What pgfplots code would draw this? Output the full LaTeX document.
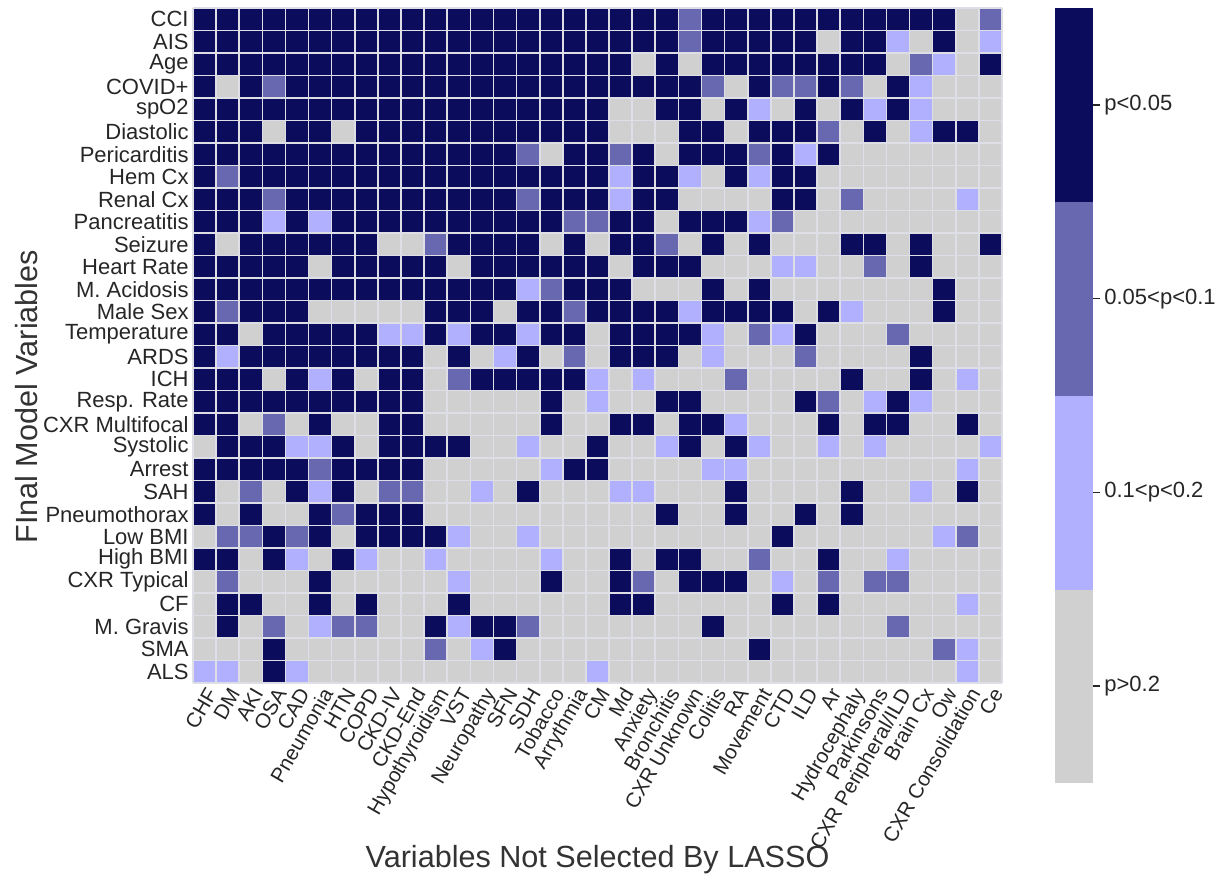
\documentclass[border=0pt]{standalone}
\usepackage{pgfplots}
\pgfplotsset{compat=1.18}
\usepackage{fontspec}
\setmainfont{Liberation Sans}
\definecolor{gridc}{RGB}{222,222,230}
\begin{document}
\begin{tikzpicture}
\begin{axis}[
  name=main,
  scale only axis,
  width=404.5pt, height=337.5pt,
  xmin=-0.5, xmax=34.5, ymin=-0.5, ymax=29.5,
  y dir=reverse,
  xtick={0,...,34},
  xticklabels={CHF,DM,AKI,OSA,CAD,Pneumonia,HTN,COPD,CKD-IV,CKD-End,Hypothyroidism,VST,Neuropathy,SFN,SDH,Tobacco,Arrythmia,CM,Md,Anxiety,Bronchitis,CXR Unknown,Colitis,RA,Movement,CTD,ILD,Ar,Hydrocephaly,Parkinsons,CXR Peripheral/ILD,Brain Cx,Ow,CXR Consolidation,Ce},
  ytick={0,...,29},
  yticklabels={CCI,AIS,Age,COVID+,spO2,Diastolic,Pericarditis,Hem Cx,Renal Cx,Pancreatitis,Seizure,Heart Rate,M. Acidosis,Male Sex,Temperature,ARDS,ICH,Resp. Rate,CXR Multifocal,Systolic,Arrest,SAH,Pneumothorax,Low BMI,High BMI,CXR Typical,CF,M. Gravis,SMA,ALS},
  xticklabel style={rotate=60, anchor=north east, inner sep=1pt, font=\fontsize{10.3}{12}\selectfont, text=black!85},
  yticklabel style={font=\fontsize{11}{13}\selectfont, inner sep=2pt, text=black!85},
  minor xtick={-0.5,0.5,...,34.5},
  minor ytick={-0.5,0.5,...,29.5},
  grid=minor,
  minor grid style={draw=gridc, line width=0.8pt},
  major tick length=0pt, minor tick length=0pt,
  axis line style={draw=none},
  axis on top,
  colormap={pval}{rgb255=(208,208,208) rgb255=(176,176,255) rgb255=(104,104,176) rgb255=(12,12,92)},
  colormap access=piecewise constant,
  point meta min=-0.5, point meta max=3.5,
  colorbar,
  colorbar style={
    at={(1.0655,1)}, anchor=north west,
    width=19pt, height=387.5pt,
    ytick={0,1,2,3},
    yticklabels={p>0.2,0.1<p<0.2,0.05<p<0.1,p<0.05},
    yticklabel style={font=\fontsize{11}{13}\selectfont, inner sep=2pt, text=black!85},
    ytick pos=right,
    yticklabel pos=right,
    tick align=outside,
    major tick length=3.5pt,
    tick style={black!85, line width=0.7pt},
    axis line style={draw=none},
  },
  xlabel={Variables Not Selected By LASSO},
  ylabel={FInal Model Variables},
  xlabel style={at={(axis description cs:0.5,-0.262)}, anchor=center, font=\fontsize{15.3}{18}\selectfont, text=black!80},
  ylabel style={at={(axis description cs:-0.2058,0.424)}, anchor=center, font=\fontsize{15.3}{18}\selectfont, text=black!80},
]
\addplot[matrix plot*, mesh/cols=35, point meta=explicit] table[row sep=\\, x=x, y=y, meta=c] {
x y c\\
0 0 3\\1 0 3\\2 0 3\\3 0 3\\4 0 3\\5 0 3\\6 0 3\\7 0 3\\8 0 3\\9 0 3\\10 0 3\\11 0 3\\12 0 3\\13 0 3\\14 0 3\\15 0 3\\16 0 3\\17 0 3\\18 0 3\\19 0 3\\20 0 3\\21 0 2\\22 0 3\\23 0 3\\24 0 3\\25 0 3\\26 0 3\\27 0 3\\28 0 3\\29 0 3\\30 0 3\\31 0 3\\32 0 3\\33 0 0\\34 0 2\\
0 1 3\\1 1 3\\2 1 3\\3 1 3\\4 1 3\\5 1 3\\6 1 3\\7 1 3\\8 1 3\\9 1 3\\10 1 3\\11 1 3\\12 1 3\\13 1 3\\14 1 3\\15 1 3\\16 1 3\\17 1 3\\18 1 3\\19 1 3\\20 1 3\\21 1 2\\22 1 3\\23 1 3\\24 1 3\\25 1 3\\26 1 3\\27 1 0\\28 1 3\\29 1 3\\30 1 1\\31 1 0\\32 1 3\\33 1 0\\34 1 1\\
0 2 3\\1 2 3\\2 2 3\\3 2 3\\4 2 3\\5 2 3\\6 2 3\\7 2 3\\8 2 3\\9 2 3\\10 2 3\\11 2 3\\12 2 3\\13 2 3\\14 2 3\\15 2 3\\16 2 3\\17 2 3\\18 2 3\\19 2 0\\20 2 3\\21 2 0\\22 2 3\\23 2 3\\24 2 3\\25 2 3\\26 2 3\\27 2 3\\28 2 3\\29 2 3\\30 2 0\\31 2 2\\32 2 1\\33 2 0\\34 2 3\\
0 3 3\\1 3 0\\2 3 3\\3 3 2\\4 3 3\\5 3 3\\6 3 3\\7 3 3\\8 3 3\\9 3 3\\10 3 3\\11 3 3\\12 3 3\\13 3 3\\14 3 3\\15 3 3\\16 3 3\\17 3 3\\18 3 3\\19 3 3\\20 3 3\\21 3 3\\22 3 2\\23 3 0\\24 3 3\\25 3 2\\26 3 2\\27 3 3\\28 3 2\\29 3 0\\30 3 3\\31 3 1\\32 3 0\\33 3 0\\34 3 0\\
0 4 3\\1 4 3\\2 4 3\\3 4 3\\4 4 3\\5 4 3\\6 4 3\\7 4 3\\8 4 3\\9 4 3\\10 4 3\\11 4 3\\12 4 3\\13 4 3\\14 4 3\\15 4 3\\16 4 3\\17 4 3\\18 4 0\\19 4 0\\20 4 3\\21 4 3\\22 4 0\\23 4 3\\24 4 1\\25 4 0\\26 4 3\\27 4 0\\28 4 3\\29 4 1\\30 4 3\\31 4 1\\32 4 0\\33 4 0\\34 4 0\\
0 5 3\\1 5 3\\2 5 3\\3 5 0\\4 5 3\\5 5 3\\6 5 0\\7 5 3\\8 5 3\\9 5 3\\10 5 3\\11 5 3\\12 5 3\\13 5 3\\14 5 3\\15 5 3\\16 5 3\\17 5 3\\18 5 0\\19 5 0\\20 5 0\\21 5 3\\22 5 3\\23 5 0\\24 5 3\\25 5 3\\26 5 3\\27 5 2\\28 5 0\\29 5 3\\30 5 0\\31 5 1\\32 5 3\\33 5 3\\34 5 0\\
0 6 3\\1 6 3\\2 6 3\\3 6 3\\4 6 3\\5 6 3\\6 6 3\\7 6 3\\8 6 3\\9 6 3\\10 6 3\\11 6 3\\12 6 3\\13 6 3\\14 6 2\\15 6 0\\16 6 3\\17 6 3\\18 6 2\\19 6 3\\20 6 0\\21 6 3\\22 6 3\\23 6 3\\24 6 2\\25 6 3\\26 6 1\\27 6 3\\28 6 0\\29 6 0\\30 6 0\\31 6 0\\32 6 0\\33 6 0\\34 6 0\\
0 7 3\\1 7 2\\2 7 3\\3 7 3\\4 7 3\\5 7 3\\6 7 3\\7 7 3\\8 7 3\\9 7 3\\10 7 3\\11 7 3\\12 7 3\\13 7 3\\14 7 3\\15 7 3\\16 7 3\\17 7 3\\18 7 1\\19 7 3\\20 7 3\\21 7 1\\22 7 0\\23 7 3\\24 7 1\\25 7 3\\26 7 3\\27 7 0\\28 7 0\\29 7 0\\30 7 0\\31 7 0\\32 7 0\\33 7 0\\34 7 0\\
0 8 3\\1 8 3\\2 8 3\\3 8 2\\4 8 3\\5 8 3\\6 8 3\\7 8 3\\8 8 3\\9 8 3\\10 8 3\\11 8 3\\12 8 3\\13 8 3\\14 8 2\\15 8 3\\16 8 3\\17 8 3\\18 8 1\\19 8 3\\20 8 3\\21 8 0\\22 8 0\\23 8 0\\24 8 0\\25 8 3\\26 8 3\\27 8 0\\28 8 2\\29 8 0\\30 8 0\\31 8 0\\32 8 0\\33 8 1\\34 8 0\\
0 9 3\\1 9 3\\2 9 3\\3 9 1\\4 9 3\\5 9 1\\6 9 3\\7 9 3\\8 9 3\\9 9 3\\10 9 3\\11 9 3\\12 9 3\\13 9 3\\14 9 3\\15 9 3\\16 9 2\\17 9 2\\18 9 3\\19 9 3\\20 9 0\\21 9 3\\22 9 3\\23 9 3\\24 9 1\\25 9 2\\26 9 0\\27 9 0\\28 9 0\\29 9 0\\30 9 0\\31 9 0\\32 9 0\\33 9 0\\34 9 0\\
0 10 3\\1 10 0\\2 10 3\\3 10 3\\4 10 3\\5 10 3\\6 10 3\\7 10 3\\8 10 0\\9 10 0\\10 10 2\\11 10 3\\12 10 3\\13 10 3\\14 10 3\\15 10 0\\16 10 3\\17 10 0\\18 10 3\\19 10 3\\20 10 2\\21 10 0\\22 10 3\\23 10 0\\24 10 3\\25 10 0\\26 10 0\\27 10 0\\28 10 3\\29 10 3\\30 10 0\\31 10 3\\32 10 0\\33 10 0\\34 10 3\\
0 11 3\\1 11 3\\2 11 3\\3 11 3\\4 11 3\\5 11 0\\6 11 3\\7 11 3\\8 11 3\\9 11 3\\10 11 3\\11 11 0\\12 11 3\\13 11 3\\14 11 3\\15 11 3\\16 11 3\\17 11 3\\18 11 0\\19 11 3\\20 11 3\\21 11 3\\22 11 0\\23 11 0\\24 11 0\\25 11 1\\26 11 1\\27 11 0\\28 11 0\\29 11 2\\30 11 0\\31 11 3\\32 11 0\\33 11 0\\34 11 0\\
0 12 3\\1 12 3\\2 12 3\\3 12 3\\4 12 3\\5 12 3\\6 12 3\\7 12 3\\8 12 3\\9 12 3\\10 12 3\\11 12 3\\12 12 3\\13 12 3\\14 12 1\\15 12 2\\16 12 3\\17 12 3\\18 12 3\\19 12 0\\20 12 0\\21 12 0\\22 12 3\\23 12 0\\24 12 3\\25 12 0\\26 12 0\\27 12 0\\28 12 0\\29 12 0\\30 12 0\\31 12 0\\32 12 3\\33 12 0\\34 12 0\\
0 13 3\\1 13 2\\2 13 3\\3 13 3\\4 13 3\\5 13 0\\6 13 0\\7 13 0\\8 13 0\\9 13 0\\10 13 3\\11 13 3\\12 13 3\\13 13 0\\14 13 3\\15 13 3\\16 13 2\\17 13 3\\18 13 3\\19 13 3\\20 13 3\\21 13 1\\22 13 3\\23 13 3\\24 13 3\\25 13 3\\26 13 0\\27 13 3\\28 13 1\\29 13 0\\30 13 0\\31 13 0\\32 13 3\\33 13 0\\34 13 0\\
0 14 3\\1 14 3\\2 14 0\\3 14 3\\4 14 3\\5 14 3\\6 14 3\\7 14 3\\8 14 1\\9 14 1\\10 14 3\\11 14 1\\12 14 3\\13 14 3\\14 14 1\\15 14 3\\16 14 3\\17 14 0\\18 14 3\\19 14 3\\20 14 3\\21 14 3\\22 14 1\\23 14 0\\24 14 2\\25 14 1\\26 14 3\\27 14 0\\28 14 0\\29 14 0\\30 14 2\\31 14 0\\32 14 0\\33 14 0\\34 14 0\\
0 15 3\\1 15 1\\2 15 3\\3 15 3\\4 15 3\\5 15 3\\6 15 3\\7 15 3\\8 15 3\\9 15 3\\10 15 0\\11 15 3\\12 15 0\\13 15 1\\14 15 3\\15 15 0\\16 15 2\\17 15 0\\18 15 3\\19 15 3\\20 15 3\\21 15 0\\22 15 1\\23 15 0\\24 15 0\\25 15 0\\26 15 2\\27 15 0\\28 15 0\\29 15 0\\30 15 0\\31 15 3\\32 15 0\\33 15 0\\34 15 0\\
0 16 3\\1 16 3\\2 16 3\\3 16 0\\4 16 3\\5 16 1\\6 16 3\\7 16 0\\8 16 3\\9 16 3\\10 16 0\\11 16 2\\12 16 3\\13 16 3\\14 16 3\\15 16 3\\16 16 3\\17 16 1\\18 16 0\\19 16 1\\20 16 0\\21 16 0\\22 16 0\\23 16 2\\24 16 0\\25 16 0\\26 16 0\\27 16 0\\28 16 3\\29 16 0\\30 16 0\\31 16 3\\32 16 0\\33 16 1\\34 16 0\\
0 17 3\\1 17 3\\2 17 3\\3 17 3\\4 17 3\\5 17 3\\6 17 3\\7 17 3\\8 17 3\\9 17 3\\10 17 0\\11 17 0\\12 17 0\\13 17 0\\14 17 0\\15 17 3\\16 17 0\\17 17 1\\18 17 0\\19 17 0\\20 17 3\\21 17 3\\22 17 0\\23 17 0\\24 17 0\\25 17 0\\26 17 3\\27 17 2\\28 17 0\\29 17 1\\30 17 3\\31 17 1\\32 17 0\\33 17 0\\34 17 0\\
0 18 3\\1 18 3\\2 18 0\\3 18 2\\4 18 0\\5 18 3\\6 18 0\\7 18 0\\8 18 3\\9 18 3\\10 18 0\\11 18 0\\12 18 0\\13 18 0\\14 18 0\\15 18 3\\16 18 0\\17 18 0\\18 18 3\\19 18 3\\20 18 0\\21 18 3\\22 18 3\\23 18 1\\24 18 0\\25 18 0\\26 18 0\\27 18 3\\28 18 0\\29 18 3\\30 18 3\\31 18 0\\32 18 0\\33 18 3\\34 18 0\\
0 19 0\\1 19 3\\2 19 3\\3 19 3\\4 19 1\\5 19 1\\6 19 3\\7 19 0\\8 19 3\\9 19 3\\10 19 3\\11 19 3\\12 19 0\\13 19 0\\14 19 1\\15 19 0\\16 19 0\\17 19 3\\18 19 0\\19 19 0\\20 19 1\\21 19 3\\22 19 0\\23 19 3\\24 19 1\\25 19 0\\26 19 0\\27 19 1\\28 19 0\\29 19 1\\30 19 0\\31 19 0\\32 19 0\\33 19 0\\34 19 1\\
0 20 3\\1 20 3\\2 20 3\\3 20 3\\4 20 3\\5 20 2\\6 20 3\\7 20 3\\8 20 3\\9 20 3\\10 20 0\\11 20 0\\12 20 0\\13 20 0\\14 20 0\\15 20 1\\16 20 3\\17 20 3\\18 20 0\\19 20 0\\20 20 0\\21 20 0\\22 20 1\\23 20 1\\24 20 0\\25 20 0\\26 20 0\\27 20 0\\28 20 0\\29 20 0\\30 20 0\\31 20 0\\32 20 0\\33 20 1\\34 20 0\\
0 21 3\\1 21 0\\2 21 2\\3 21 0\\4 21 3\\5 21 1\\6 21 3\\7 21 0\\8 21 2\\9 21 2\\10 21 0\\11 21 0\\12 21 1\\13 21 0\\14 21 3\\15 21 0\\16 21 0\\17 21 0\\18 21 1\\19 21 1\\20 21 0\\21 21 0\\22 21 0\\23 21 3\\24 21 0\\25 21 0\\26 21 0\\27 21 0\\28 21 3\\29 21 0\\30 21 0\\31 21 1\\32 21 0\\33 21 3\\34 21 0\\
0 22 3\\1 22 0\\2 22 3\\3 22 0\\4 22 0\\5 22 3\\6 22 2\\7 22 3\\8 22 3\\9 22 3\\10 22 0\\11 22 0\\12 22 0\\13 22 0\\14 22 0\\15 22 0\\16 22 0\\17 22 0\\18 22 0\\19 22 0\\20 22 3\\21 22 0\\22 22 0\\23 22 3\\24 22 0\\25 22 0\\26 22 3\\27 22 0\\28 22 3\\29 22 0\\30 22 0\\31 22 0\\32 22 0\\33 22 0\\34 22 0\\
0 23 0\\1 23 2\\2 23 2\\3 23 3\\4 23 2\\5 23 3\\6 23 0\\7 23 3\\8 23 3\\9 23 3\\10 23 3\\11 23 1\\12 23 0\\13 23 0\\14 23 1\\15 23 0\\16 23 0\\17 23 0\\18 23 0\\19 23 0\\20 23 0\\21 23 0\\22 23 0\\23 23 0\\24 23 0\\25 23 3\\26 23 0\\27 23 0\\28 23 0\\29 23 0\\30 23 0\\31 23 0\\32 23 1\\33 23 2\\34 23 0\\
0 24 3\\1 24 3\\2 24 0\\3 24 3\\4 24 1\\5 24 0\\6 24 3\\7 24 1\\8 24 0\\9 24 0\\10 24 1\\11 24 0\\12 24 0\\13 24 0\\14 24 0\\15 24 1\\16 24 0\\17 24 0\\18 24 3\\19 24 0\\20 24 3\\21 24 3\\22 24 0\\23 24 0\\24 24 2\\25 24 0\\26 24 0\\27 24 3\\28 24 0\\29 24 0\\30 24 1\\31 24 0\\32 24 0\\33 24 0\\34 24 0\\
0 25 0\\1 25 2\\2 25 0\\3 25 0\\4 25 0\\5 25 3\\6 25 0\\7 25 0\\8 25 0\\9 25 0\\10 25 0\\11 25 1\\12 25 0\\13 25 0\\14 25 0\\15 25 3\\16 25 0\\17 25 0\\18 25 3\\19 25 2\\20 25 0\\21 25 3\\22 25 3\\23 25 3\\24 25 0\\25 25 1\\26 25 0\\27 25 2\\28 25 0\\29 25 2\\30 25 2\\31 25 0\\32 25 0\\33 25 0\\34 25 0\\
0 26 0\\1 26 3\\2 26 3\\3 26 0\\4 26 0\\5 26 3\\6 26 0\\7 26 3\\8 26 0\\9 26 0\\10 26 0\\11 26 3\\12 26 0\\13 26 0\\14 26 0\\15 26 0\\16 26 0\\17 26 0\\18 26 3\\19 26 3\\20 26 0\\21 26 0\\22 26 0\\23 26 0\\24 26 0\\25 26 3\\26 26 0\\27 26 3\\28 26 0\\29 26 0\\30 26 0\\31 26 0\\32 26 0\\33 26 1\\34 26 0\\
0 27 0\\1 27 3\\2 27 0\\3 27 2\\4 27 0\\5 27 1\\6 27 2\\7 27 2\\8 27 0\\9 27 0\\10 27 3\\11 27 1\\12 27 3\\13 27 3\\14 27 2\\15 27 0\\16 27 0\\17 27 0\\18 27 0\\19 27 0\\20 27 0\\21 27 0\\22 27 3\\23 27 0\\24 27 0\\25 27 0\\26 27 0\\27 27 0\\28 27 0\\29 27 0\\30 27 2\\31 27 0\\32 27 0\\33 27 0\\34 27 0\\
0 28 0\\1 28 0\\2 28 0\\3 28 3\\4 28 0\\5 28 0\\6 28 0\\7 28 0\\8 28 0\\9 28 0\\10 28 2\\11 28 0\\12 28 1\\13 28 3\\14 28 0\\15 28 0\\16 28 0\\17 28 0\\18 28 0\\19 28 0\\20 28 0\\21 28 0\\22 28 0\\23 28 0\\24 28 3\\25 28 0\\26 28 0\\27 28 0\\28 28 0\\29 28 0\\30 28 0\\31 28 0\\32 28 2\\33 28 1\\34 28 0\\
0 29 1\\1 29 1\\2 29 0\\3 29 3\\4 29 1\\5 29 0\\6 29 0\\7 29 0\\8 29 0\\9 29 0\\10 29 0\\11 29 0\\12 29 0\\13 29 0\\14 29 0\\15 29 0\\16 29 0\\17 29 1\\18 29 0\\19 29 0\\20 29 0\\21 29 0\\22 29 0\\23 29 0\\24 29 0\\25 29 0\\26 29 0\\27 29 0\\28 29 0\\29 29 0\\30 29 0\\31 29 0\\32 29 0\\33 29 1\\34 29 0\\
};
\end{axis}
\path ([shift={(-96.5pt,-102.5pt)}]main.south west) rectangle ([shift={(515pt,341.5pt)}]main.south west);
\end{tikzpicture}
\end{document}
